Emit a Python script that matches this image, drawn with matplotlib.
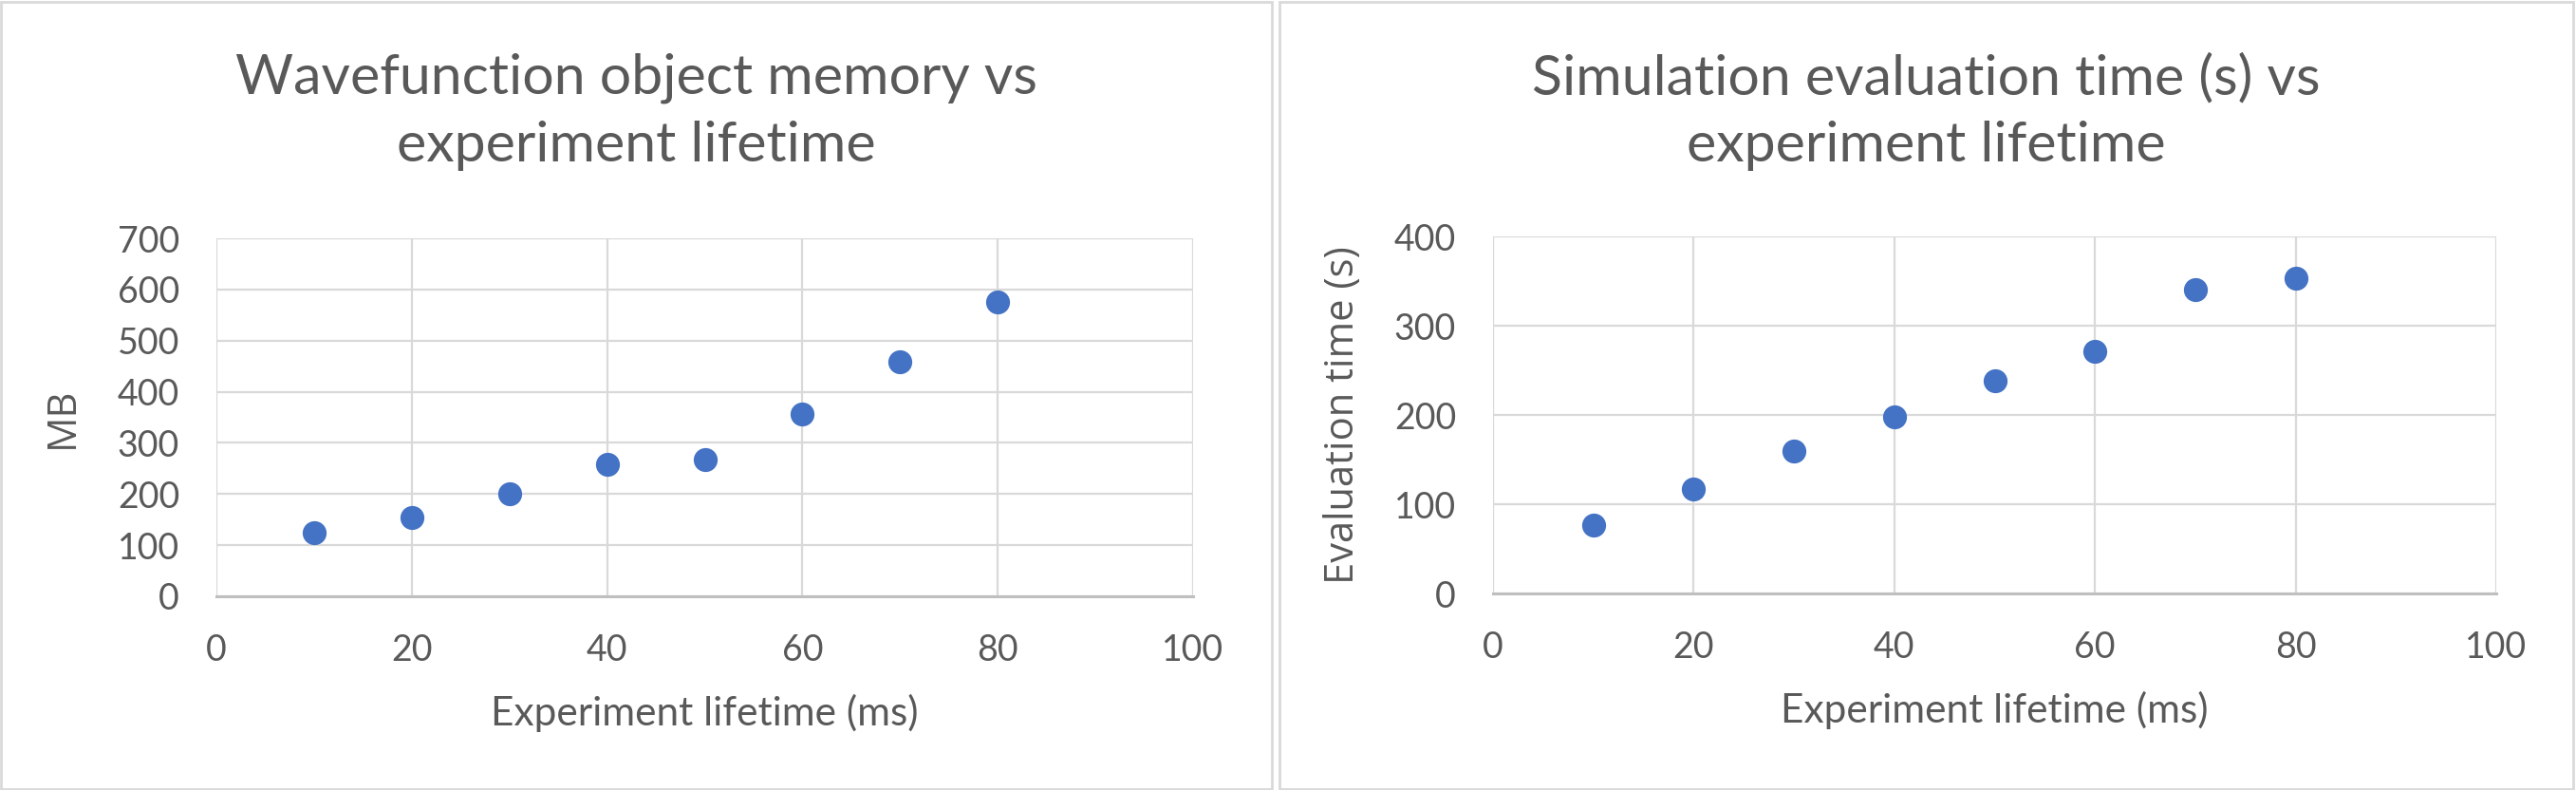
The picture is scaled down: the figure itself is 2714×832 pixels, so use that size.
import matplotlib
matplotlib.use("Agg")
import matplotlib.pyplot as plt
from matplotlib.patches import Rectangle

# data
lifetime_ms = [10, 20, 30, 40, 50, 60, 70, 80]
memory_mb = [125, 155, 200, 259, 268, 356, 458, 575]
eval_time_s = [77, 117, 160, 198, 238, 271, 340, 353]

titles = ["Wavefunction object memory vs\nexperiment lifetime",
          "Simulation evaluation time (s) vs\nexperiment lifetime"]
ylabels = ["MB", "Evaluation time (s)"]
xlabel = "Experiment lifetime (ms)"

W, H = 2714, 832
txt = "#595959"
blue = "#4472C4"
grid = "#d9d9d9"

fig = plt.figure(figsize=(W / 100, H / 100), dpi=100)
fig.patch.set_facecolor("white")

# panel borders (pixel boxes)
for x0, x1 in [(1, 1340), (1348, 2711)]:
    fig.add_artist(Rectangle((x0 / W, 1 / H), (x1 - x0) / W, (H - 3) / H,
                             transform=fig.transFigure, fill=False,
                             edgecolor=grid, linewidth=2))

# axes boxes in pixels: left, right, top, bottom
boxes = [(228, 1257, 251, 628), (1573, 2630, 249, 625)]
series = [memory_mb, eval_time_s]
ymax = [700, 400]
title_x = [670, 2029]
ylab_x = [87, 1436]

for i in range(2):
    l, r, t, b = boxes[i]
    ax = fig.add_axes([l / W, (H - b) / H, (r - l) / W, (b - t) / H])
    ax.scatter(lifetime_ms, series[i], s=330, color=blue, zorder=3,
               linewidths=0)
    ax.set_xlim(0, 100)
    ax.set_ylim(0, ymax[i])
    ax.set_xticks(range(0, 101, 20))
    ax.set_yticks(range(0, ymax[i] + 1, 100))
    ax.grid(True, color=grid, linewidth=1.6, zorder=0)
    for s in ["top", "right", "left"]:
        ax.spines[s].set_visible(False)
    ax.spines["bottom"].set_color("#bfbfbf")
    ax.spines["bottom"].set_linewidth(2.2)
    ax.tick_params(length=0, pad=28, labelsize=27, labelcolor=txt)
    for lab in ax.get_xticklabels() + ax.get_yticklabels():
        lab.set_family("Lato")
    ax.set_xlabel(xlabel, fontsize=30.5, color=txt, family="Lato", labelpad=20)
    ax.set_ylabel(ylabels[i], fontsize=30, color=txt, family="Open Sans")
    ax.yaxis.set_label_coords((ylab_x[i] - l) / (r - l), 0.5)
    fig.text(title_x[i] / W, 1 - 118 / H, titles[i], ha="center", va="center",
             fontsize=42.5, color=txt, family="Lato", linespacing=1.42)

fig.savefig("out.png", dpi=100, facecolor="white")
